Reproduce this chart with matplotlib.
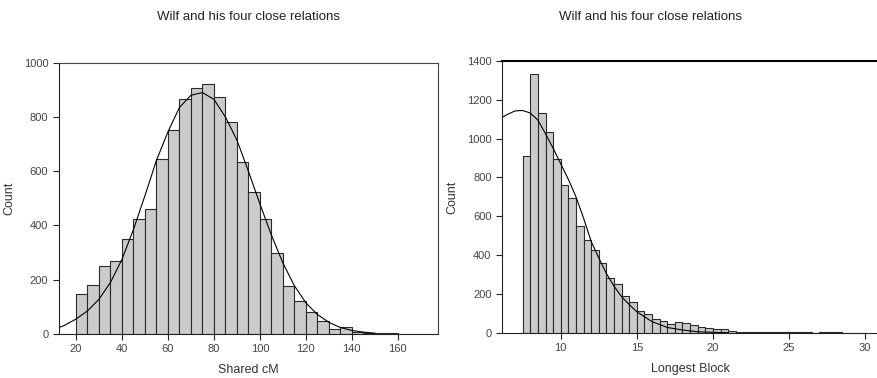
import matplotlib
matplotlib.use("Agg")
import matplotlib.pyplot as plt
import numpy as np

plt.rcParams['font.family'] = ['Liberation Sans', 'DejaVu Sans']

title = "Wilf and his four close relations"

# left panel: Shared cM, bins of 5 from 20 to 160
cm_edges = list(range(20, 165, 5))
cm_counts = [146, 180, 249, 269, 349, 424, 461, 645, 752, 865, 908, 920, 873, 781,
             634, 523, 424, 300, 177, 122, 81, 49, 18, 25, 9, 4, 2, 2]
cm_fit_x = [13, 15, 20, 25, 30, 35, 40, 45, 50, 55, 60, 65, 70, 75, 80, 85, 90,
            95, 100, 105, 110, 115, 120, 125, 130, 135, 140, 145, 150]
cm_fit_y = [25, 32, 55, 85, 128, 190, 275, 385, 510, 640, 745, 835, 880, 890, 865,
            800, 715, 600, 480, 365, 262, 178, 115, 72, 43, 24, 13, 7, 3]

# right panel: Longest Block, bins of 0.5 from 7.5 to 30
lb_edges = [7.5 + 0.5 * i for i in range(46)]
lb_counts = [909, 1333, 1132, 1036, 896, 763, 693, 551, 480, 425, 357, 281, 252,
             189, 156, 113, 94, 69, 58, 46, 53, 48, 41, 27, 22, 21, 17, 9,
             6, 5, 5, 4, 4, 4, 5, 3, 3, 2, 0, 2, 2, 2, 0, 1, 1]
lb_fit_x = [6.1, 6.5, 7, 7.5, 8, 8.5, 9, 9.5, 10, 10.5, 11, 11.5, 12, 12.5, 13,
            13.5, 14, 14.5, 15, 16, 17, 18, 19, 20, 21]
lb_fit_y = [1108, 1125, 1143, 1145, 1132, 1095, 1025, 950, 870, 790, 700, 590,
            470, 385, 305, 240, 185, 145, 108, 57, 27, 14, 5, 2, 0]

bar_face = '#cbcbcb'
bar_edge = '#2a2a2a'

fig = plt.figure(figsize=(8.78, 3.78), dpi=100)

ax1 = fig.add_axes([0.0669, 0.1164, 0.432, 0.7177])
ax1.bar(cm_edges[:-1], cm_counts, width=np.diff(cm_edges), align='edge',
        color=bar_face, edgecolor=bar_edge, linewidth=0.8)
ax1.plot(cm_fit_x, cm_fit_y, color='black', linewidth=0.8)
ax1.set_xlim(12.5, 177.5)
ax1.set_ylim(0, 1000)
ax1.set_xticks(range(20, 161, 20))
ax1.set_yticks(range(0, 1001, 200))
ax1.set_xlabel("Shared cM", fontsize=9, color='#333333', labelpad=7)
ax1.set_ylabel("Count", fontsize=9, color='#333333', labelpad=6)

ax2 = fig.add_axes([0.5718, 0.1198, 0.4282, 0.7188])
ax2.bar(lb_edges[:-1], lb_counts, width=np.diff(lb_edges), align='edge',
        color=bar_face, edgecolor=bar_edge, linewidth=0.8)
ax2.plot(lb_fit_x, lb_fit_y, color='black', linewidth=0.8)
ax2.set_xlim(6.14, 30.85)
ax2.set_ylim(0, 1400)
ax2.set_xticks(range(10, 31, 5))
ax2.set_yticks(range(0, 1401, 200))
ax2.set_xlabel("Longest Block", fontsize=9, color='#333333', labelpad=7)
ax2.set_ylabel("Count", fontsize=9, color='#333333', labelpad=6)
ax2.spines['right'].set_visible(False)
ax2.spines['top'].set_linewidth(1.5)

for ax in (ax1, ax2):
    ax.tick_params(direction='out', length=4, width=0.8, labelsize=8,
                   colors='#222222', labelcolor='#444444')
    for s in ('left', 'bottom'):
        ax.spines[s].set_color('#222222')

ax1.spines['top'].set_color('#444444')
ax1.spines['right'].set_color('#444444')

fig.text(0.283, 0.955, title, ha='center', va='center', fontsize=9.5, color='#222222')
fig.text(0.741, 0.955, title, ha='center', va='center', fontsize=9.5, color='#222222')

fig.savefig("out.png", dpi=100)
